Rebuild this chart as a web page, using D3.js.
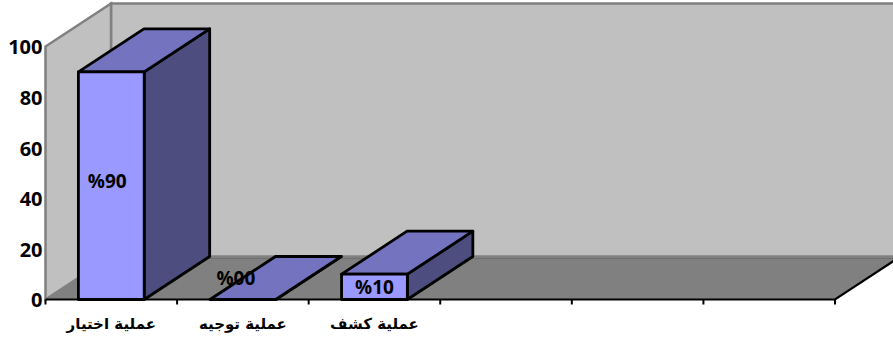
<!DOCTYPE html>
<html>
<head>
<meta charset="utf-8">
<script src="https://cdn.jsdelivr.net/npm/d3@7/dist/d3.min.js"></script>
<style>
html,body{margin:0;padding:0;background:#fff;overflow:hidden}
svg{display:block}
.num{font-family:"Open Sans",sans-serif;font-weight:700;font-size:20px;fill:#000}
.cat{font-family:"DejaVu Sans",sans-serif;font-weight:700;font-size:15px;fill:#000}
</style>
</head>
<body>
<svg id="chart" width="893" height="338"></svg>
<script>
// Survey shares per process; the last three slots of the axis are empty.
const categories = ["عملية اختيار", "عملية توجيه", "عملية كشف", "", "", ""];
const values = [90, 0, 10];
const valueLabels = ["%90", "%00", "%10"];
const yTicks = [0, 20, 40, 60, 80, 100];

const originX = 45.5, axisEndX = 835, baseY = 299.5, topY = 46.5;
const depthX = 65.5, depthY = -43;

const svg = d3.select("#chart");
const x = d3.scaleBand().domain(d3.range(categories.length)).range([originX, axisEndX]).paddingInner(0).paddingOuter(0);
const y = d3.scaleLinear().domain([0, 100]).range([baseY, topY]);
const barW = x.bandwidth() / 2;
const farX = axisEndX + depthX;

const poly = pts => "M" + pts.map(p => p.join(",")).join("L") + "Z";

// Back wall, side wall and floor of the 3D box
svg.append("path")
  .attr("d", poly([[originX + depthX, y(100) + depthY], [farX, y(100) + depthY], [farX, baseY + depthY], [originX + depthX, baseY + depthY]]))
  .attr("fill", "#c0c0c0").attr("stroke", "#808080").attr("stroke-width", 2.5);
svg.append("path")
  .attr("d", poly([[originX, y(100)], [originX + depthX, y(100) + depthY], [originX + depthX, baseY + depthY], [originX, baseY]]))
  .attr("fill", "#c0c0c0").attr("stroke", "#808080").attr("stroke-width", 2.5);
svg.append("path")
  .attr("d", poly([[originX, baseY], [originX + depthX, baseY + depthY], [farX, baseY + depthY], [axisEndX, baseY]]))
  .attr("fill", "#808080");
svg.append("line")
  .attr("x1", originX + depthX).attr("x2", farX)
  .attr("y1", baseY + depthY + 2).attr("y2", baseY + depthY + 2)
  .attr("stroke", "#6f6f6f").attr("stroke-width", 1);

// Category axis: ticks fall on the band boundaries
const axisG = svg.append("g");
axisG.append("path")
  .attr("d", "M" + originX + "," + baseY + "L" + axisEndX + "," + baseY + "L" + farX + "," + (baseY + depthY))
  .attr("fill", "none").attr("stroke", "#000").attr("stroke-width", 2.2);
axisG.selectAll("line.tick").data(d3.range(categories.length + 1)).join("line")
  .attr("class", "tick")
  .attr("x1", i => originX + i * x.step()).attr("x2", i => originX + i * x.step())
  .attr("y1", baseY).attr("y2", baseY + 5)
  .attr("stroke", "#000").attr("stroke-width", 2);

// Value axis labels
const yAxis = d3.axisLeft(y).tickValues(yTicks).tickSize(0).tickPadding(3);
const yG = svg.append("g").attr("transform", `translate(${originX},1)`).call(yAxis);
yG.select(".domain").remove();
yG.selectAll("text").attr("class", "num").attr("font-size", null).attr("font-family", null);

// Category labels
svg.selectAll("text.cat").data(categories.filter(d => d)).join("text")
  .attr("class", "cat")
  .attr("x", (d, i) => x(i) + x.bandwidth() / 2)
  .attr("y", 329)
  .attr("text-anchor", "middle")
  .attr("direction", "rtl")
  .text(d => d);

// Bars: front, top and side faces
const bars = svg.append("g").selectAll("g").data(values).join("g");
const barX = i => x(i) + x.bandwidth() / 2 - barW / 2;
const strokeAttrs = s => s.attr("stroke", "#000").attr("stroke-width", 2.8).attr("stroke-linejoin", "round");

bars.append("path").attr("d", (d, i) => poly([
    [barX(i) + barW, y(d)], [barX(i) + barW + depthX, y(d) + depthY],
    [barX(i) + barW + depthX, baseY + depthY], [barX(i) + barW, baseY]]))
  .attr("fill", "#4d4d80").call(strokeAttrs);
bars.append("path").attr("d", (d, i) => poly([
    [barX(i), y(d)], [barX(i) + depthX, y(d) + depthY],
    [barX(i) + barW + depthX, y(d) + depthY], [barX(i) + barW, y(d)]]))
  .attr("fill", "#7373bf").call(strokeAttrs);
bars.append("rect")
  .attr("x", (d, i) => barX(i)).attr("width", barW)
  .attr("y", d => y(d)).attr("height", d => baseY - y(d))
  .attr("fill", "#9999ff").call(strokeAttrs);

// Value labels on each bar's front face; tall bars read slightly above centre,
// and the empty bar's label sits above the floor
const labelX = (d, i) => barX(i) + barW / 2 + (d === 0 ? -7 : d > 50 ? -4 : 0);
const labelY = d => d === 0 ? y(d) - 21 : (y(d) + baseY) / 2 - (d > 50 ? 4 : 0);
bars.append("text")
  .attr("class", "num")
  .attr("x", labelX)
  .attr("y", labelY)
  .attr("dy", "0.36em")
  .attr("text-anchor", "middle")
  .style("font-size", "19px")
  .text((d, i) => valueLabels[i]);
</script>
</body>
</html>
